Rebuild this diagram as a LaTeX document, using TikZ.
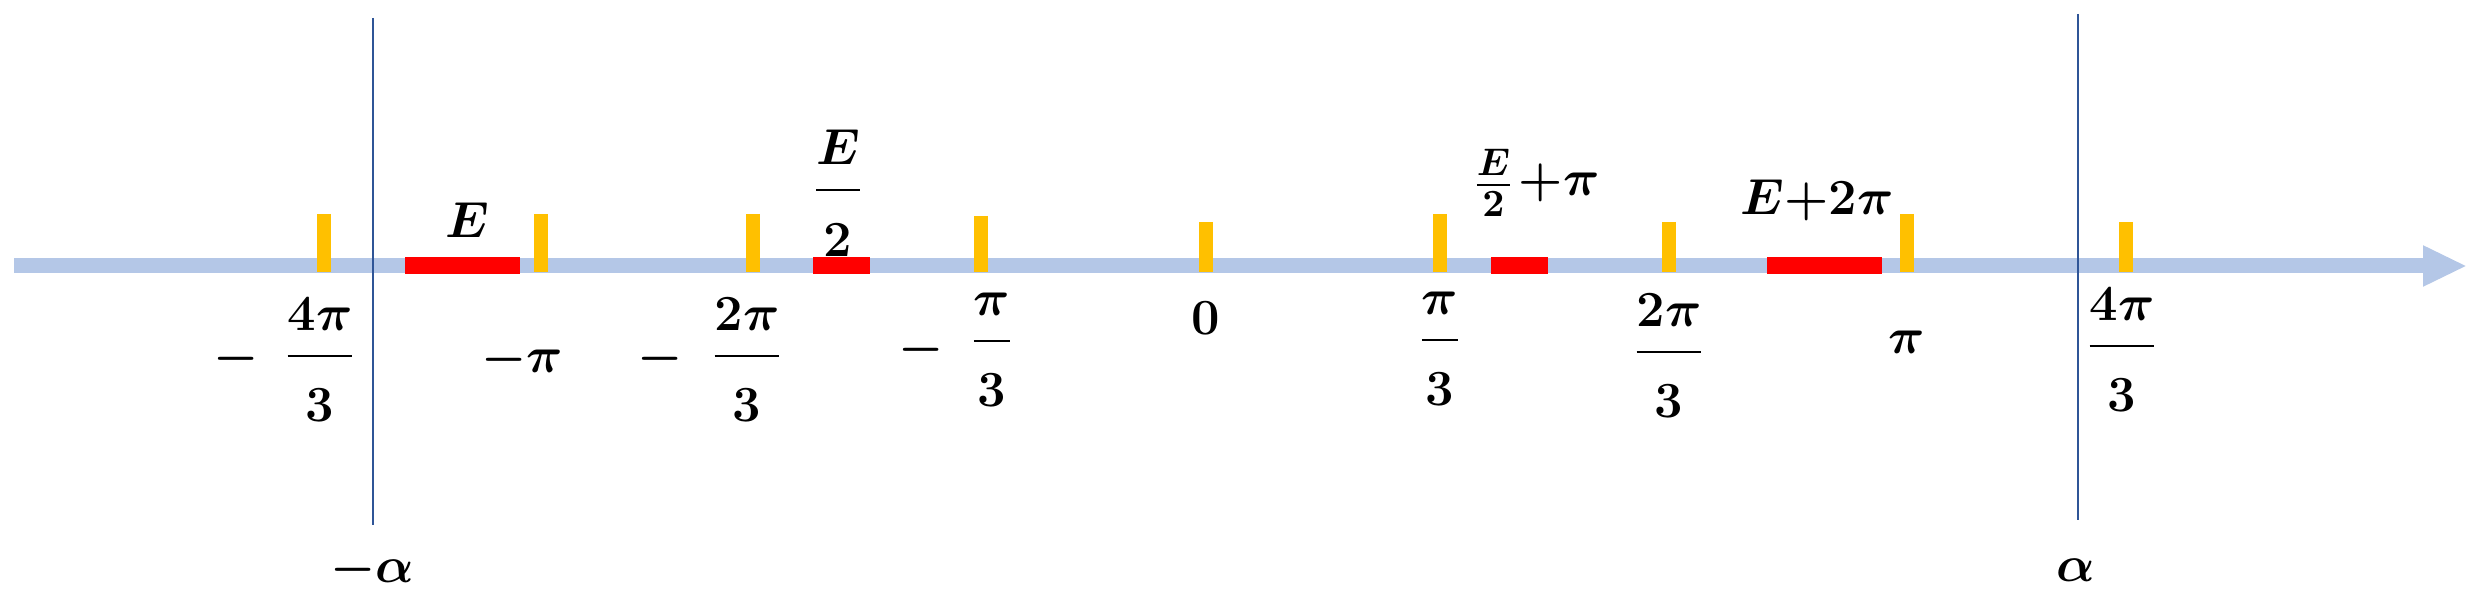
\documentclass[tikz,border=0pt]{standalone}
\usepackage{amsmath}
\usetikzlibrary{arrows.meta}
\definecolor{axisblue}{RGB}{180,199,231}
\definecolor{tickor}{RGB}{255,192,0}
\definecolor{linblue}{RGB}{47,85,151}
\newcommand{\myfr}[2]{$\boldsymbol{\dfrac{#1\rule[-0.7ex]{0pt}{0pt}}{\rule{0pt}{2.6ex}#2}}$}
\tikzset{
  lbl/.style={inner sep=0pt,font=\fontsize{15}{17}\selectfont\boldmath},
  tk/.style={draw=tickor,line width=14*0.01cm},
  seg/.style={draw=red,line width=17*0.01cm},
  vl/.style={draw=linblue,line width=2*0.01cm}
}
\begin{document}
\begin{tikzpicture}[x=0.01cm,y=-0.01cm]
\useasboundingbox (0,0) rectangle (2480,616);
\coordinate (s) at (14,266);
\coordinate (t) at (2467,266);
\draw[draw=axisblue,line width=15*0.01cm,-{Triangle[length=44*0.01cm,width=38*0.01cm]}] (s) -- (t);
% vertical lines
\coordinate (la1) at (373,18); \coordinate (la2) at (373,525);
\coordinate (ra1) at (2078,14); \coordinate (ra2) at (2078,520);
\draw[vl] (la1) -- (la2);
\draw[vl] (ra1) -- (ra2);
% ticks
\foreach \x/\top in {324/214,541/214,753/214,981/216,1206/222,1440/214,1669/222,1907/214,2126/222}{
  \draw[tk] (\x,\top) -- (\x,272);
}
% red segments
\draw[seg] (405,266) -- (520,266);
\draw[seg] (813,266) -- (870,266);
\draw[seg] (1491,266) -- (1548,266);
\draw[seg] (1767,266) -- (1882,266);
% labels
\node[lbl] (m4) at (236,359) {$-$};
\node[lbl] (f4) at (320,360) {\myfr{4\pi}{3}};
\node[lbl] (mpi) at (522,360) {$-\pi$};
\node[lbl] (m2) at (660,359) {$-$};
\node[lbl] (f2) at (747,360) {\myfr{2\pi}{3}};
\node[lbl] (m1) at (921,350) {$-$};
\node[lbl] (f1) at (992,350) {\myfr{\pi}{3}};
\node[lbl] (z) at (1206,318) {$0$};
\node[lbl] (p1) at (1440,349) {\myfr{\pi}{3}};
\node[lbl] (p2) at (1669,356) {\myfr{2\pi}{3}};
\node[lbl] (pp) at (1907,342) {$\pi$};
\node[lbl] (p4) at (2122,350) {\myfr{4\pi}{3}};
\node[lbl] (E) at (467,220) {$E$};
\node[lbl] (E2) at (838,193) {\myfr{E}{2}};
\node[lbl,anchor=east] (E2p) at (1515,183) {$\boldsymbol{\frac{E}{2}}$};
\node[lbl,anchor=west] (pip) at (1518,183) {$+\pi$};
\node[lbl] (E2pi) at (1817,200) {$E{+}2\pi$};
\node[lbl] (ma) at (372,570) {$-\alpha$};
\node[lbl] (a) at (2076,570) {$\alpha$};
\end{tikzpicture}
\end{document}
